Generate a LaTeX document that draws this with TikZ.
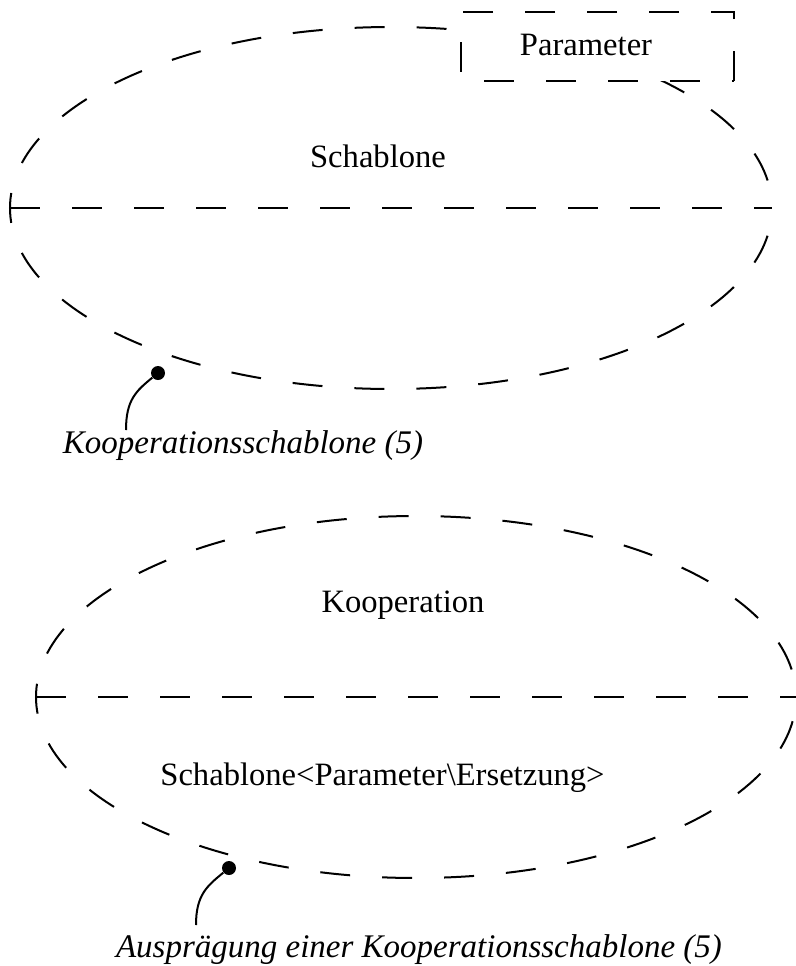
\documentclass[tikz,border=0pt]{standalone}
\usepackage{fontspec}
\setmainfont{Liberation Serif}
\usetikzlibrary{shapes.geometric}
\begin{document}
\begin{tikzpicture}[x=0.5pt,y=-0.5pt,
  dashline/.style={line width=1pt,dash pattern=on 15pt off 16pt},
  oval/.style={ellipse,draw,dashline,dash phase=17pt,inner sep=0pt,outer sep=0pt},
  lbl/.style={inner sep=0pt,anchor=base,font=\fontsize{16.3}{19}\selectfont},
  note/.style={inner sep=0pt,anchor=base,font=\fontsize{16.5}{20}\selectfont\itshape},
  dot/.style={circle,fill=black,inner sep=0pt,minimum size=7pt},
  leader/.style={line width=1pt}]
\useasboundingbox (0,0) rectangle (796,966);

% collaboration template
\node[oval,minimum width=381pt,minimum height=181pt] (tmpl) at (391,208) {};
\draw[dashline] (tmpl.west) -- (tmpl.east);
\node[fill=white,minimum width=136.5pt,minimum height=34.5pt,inner sep=0pt,outer sep=0pt] (parbox) at (597.5,46.5) {};
\draw[dashline] (parbox.south east) -- (parbox.north east) -- (parbox.north west) -- (parbox.south west) -- cycle;
\node[lbl] (par) at (586,55) {Parameter};
\node[lbl] (tname) at (378,167) {Schablone};
\node[dot] (d1) at (158,373) {};
\coordinate (e1) at (126,430);
\draw[leader] (d1) .. controls +(-22,18) and +(0,-30) .. (e1);
\node[note] (n1) at (243,453) {Kooperationsschablone (5)};

% bound collaboration
\node[oval,minimum width=380pt,minimum height=181pt] (coll) at (416,697) {};
\draw[dashline] (coll.west) -- (coll.east);
\node[lbl] (cname) at (403,612) {Kooperation};
\node[lbl,anchor=base west] (bind) at (160,785) {Schablone<Parameter\textbackslash Ersetzung>};
\node[dot] (d2) at (229,868) {};
\coordinate (e2) at (196,925);
\draw[leader] (d2) .. controls +(-22,18) and +(0,-30) .. (e2);
\node[note] (n2) at (419,957) {Ausprägung einer Kooperationsschablone (5)};
\end{tikzpicture}
\end{document}
